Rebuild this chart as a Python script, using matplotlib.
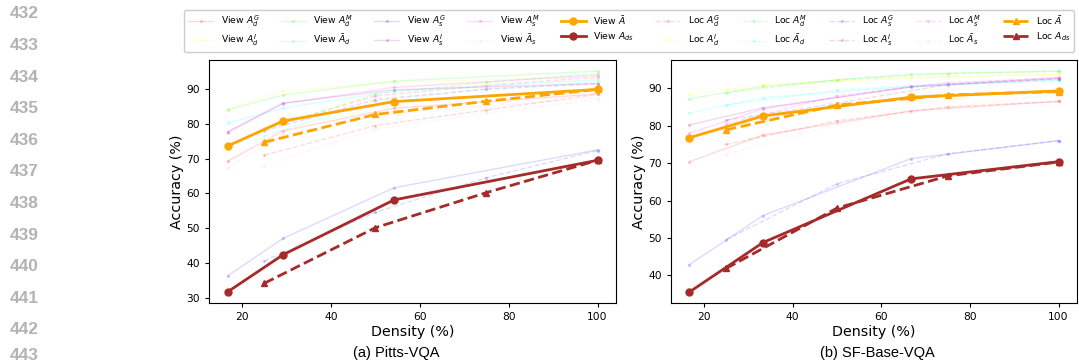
import matplotlib
matplotlib.use('Agg')
import matplotlib.pyplot as plt

# density values (%)
pitts_view_x = [16.7, 29.2, 54.2, 100]
pitts_loc_x = [25, 50, 75, 100]
sf_view_x = [16.7, 33.3, 66.7, 100]
sf_loc_x = [25, 50, 75, 100]

# faint baselines, order: AdG, AdI, AdM, Ad_bar, AsG, AsI, AsM, As_bar
pitts_view_AdG = [69.2, 78.0, 84.5, 88.6]
pitts_view_AdI = [84.2, 89.4, 92.0, 93.5]
pitts_view_AdM = [84.0, 88.3, 92.3, 95.2]
pitts_view_Adbar = [80.2, 84.5, 89.5, 92.7]
pitts_view_AsG = [36.2, 47.0, 61.6, 72.5]
pitts_view_AsI = [77.7, 86.0, 89.8, 91.6]
pitts_view_AsM = [77.5, 85.8, 90.5, 94.0]
pitts_view_Asbar = [67.3, 77.0, 83.0, 87.5]

pitts_loc_AdG = [71.0, 79.5, 84.0, 88.5]
pitts_loc_AdI = [79.0, 88.0, 91.5, 93.0]
pitts_loc_AdM = [78.5, 88.5, 92.0, 94.5]
pitts_loc_Adbar = [76.5, 86.5, 90.0, 92.0]
pitts_loc_AsG = [40.5, 54.5, 64.5, 72.3]
pitts_loc_AsI = [78.0, 87.0, 90.0, 91.5]
pitts_loc_AsM = [78.5, 88.0, 91.0, 93.5]
pitts_loc_Asbar = [68.0, 78.5, 83.0, 87.0]

sf_view_AdG = [70.4, 77.5, 84.0, 86.5]
sf_view_AdI = [88.4, 91.0, 92.8, 93.8]
sf_view_AdM = [87.2, 90.5, 93.8, 94.6]
sf_view_Adbar = [83.4, 87.5, 90.5, 92.1]
sf_view_AsG = [42.9, 56.0, 71.2, 76.0]
sf_view_AsI = [80.2, 84.8, 90.3, 92.6]
sf_view_AsM = [78.0, 84.5, 90.5, 92.9]
sf_view_Asbar = [76.0, 82.0, 88.0, 89.5]

sf_loc_AdG = [75.0, 81.3, 85.0, 86.5]
sf_loc_AdI = [89.5, 92.0, 93.0, 93.8]
sf_loc_AdM = [88.8, 92.3, 93.9, 94.5]
sf_loc_Adbar = [85.5, 89.5, 91.2, 92.0]
sf_loc_AsG = [49.6, 64.5, 72.5, 76.0]
sf_loc_AsI = [81.5, 86.0, 91.0, 92.5]
sf_loc_AsM = [80.5, 88.0, 91.5, 92.7]
sf_loc_Asbar = [72.2, 80.5, 85.0, 88.5]

# main results
pitts_view_Abar = [73.6, 80.8, 86.4, 89.9]
pitts_loc_Abar = [74.7, 82.7, 86.5, 89.9]
pitts_view_Ads = [31.6, 42.3, 58.1, 69.5]
pitts_loc_Ads = [34.1, 50.1, 60.2, 69.5]

sf_view_Abar = [76.8, 82.6, 87.6, 89.3]
sf_loc_Abar = [78.9, 85.5, 88.2, 89.1]
sf_view_Ads = [35.6, 48.8, 65.8, 70.4]
sf_loc_Ads = [41.9, 58.0, 66.6, 70.3]

faint_names = [r'$A_d^G$', r'$A_d^I$', r'$A_d^M$', r'$\bar{A}_d$',
               r'$A_s^G$', r'$A_s^I$', r'$A_s^M$', r'$\bar{A}_s$']
faint_colors = ['red', 'yellow', 'lime', 'cyan', 'blue', 'purple', 'magenta', 'pink']

panels = [
    dict(vx=pitts_view_x, lx=pitts_loc_x,
         view=[pitts_view_AdG, pitts_view_AdI, pitts_view_AdM, pitts_view_Adbar,
               pitts_view_AsG, pitts_view_AsI, pitts_view_AsM, pitts_view_Asbar],
         loc=[pitts_loc_AdG, pitts_loc_AdI, pitts_loc_AdM, pitts_loc_Adbar,
              pitts_loc_AsG, pitts_loc_AsI, pitts_loc_AsM, pitts_loc_Asbar],
         vA=pitts_view_Abar, lA=pitts_loc_Abar, vD=pitts_view_Ads, lD=pitts_loc_Ads,
         caption='(a) Pitts-VQA'),
    dict(vx=sf_view_x, lx=sf_loc_x,
         view=[sf_view_AdG, sf_view_AdI, sf_view_AdM, sf_view_Adbar,
               sf_view_AsG, sf_view_AsI, sf_view_AsM, sf_view_Asbar],
         loc=[sf_loc_AdG, sf_loc_AdI, sf_loc_AdM, sf_loc_Adbar,
              sf_loc_AsG, sf_loc_AsI, sf_loc_AsM, sf_loc_Asbar],
         vA=sf_view_Abar, lA=sf_loc_Abar, vD=sf_view_Ads, lD=sf_loc_Ads,
         caption='(b) SF-Base-VQA'),
]

fig = plt.figure(figsize=(10.79, 3.64), dpi=100)
ax_pos = [[0.1937, 0.1676, 0.3772, 0.6676], [0.6219, 0.1676, 0.3763, 0.6676]]
cap_x = [396 / 1079, 877 / 1079]

for i, p in enumerate(panels):
    ax = fig.add_axes(ax_pos[i])
    view_handles, loc_handles = [], []
    for ys, c, n in zip(p['view'], faint_colors, faint_names):
        h, = ax.plot(p['vx'], ys, '-', marker='.', ms=3, lw=1, color=c, alpha=0.14,
                     label='View ' + n)
        view_handles.append(h)
    for ys, c, n in zip(p['loc'], faint_colors, faint_names):
        h, = ax.plot(p['lx'], ys, '--', marker='.', ms=3, lw=1, color=c, alpha=0.14,
                     label='Loc ' + n)
        loc_handles.append(h)
    h1, = ax.plot(p['vx'], p['vA'], '-', marker='o', ms=5, lw=2, color='orange',
                  label=r'View $\bar{A}$')
    h2, = ax.plot(p['vx'], p['vD'], '-', marker='o', ms=5, lw=2, color='brown',
                  label=r'View $A_{ds}$')
    h3, = ax.plot(p['lx'], p['lA'], '--', marker='^', ms=5, lw=2, color='orange',
                  label=r'Loc $\bar{A}$')
    h4, = ax.plot(p['lx'], p['lD'], '--', marker='^', ms=5, lw=2, color='brown',
                  label=r'Loc $A_{ds}$')
    ax.tick_params(labelsize=7.7, length=3)
    ax.set_xlabel('Density (%)', fontsize=10.3, labelpad=2)
    ax.set_ylabel('Accuracy (%)', fontsize=10.3, labelpad=2)
    fig.text(cap_x[i], 1 - 353 / 364, p['caption'], ha='center', va='center',
             fontsize=10.5, family='Liberation Sans')
    if i == 0:
        handles = view_handles + [h1, h2] + loc_handles + [h3, h4]

fig.legend(handles=handles, ncol=10, loc='center', bbox_to_anchor=(629 / 1079, 1 - 31 / 364),
           fontsize=6.7, handlelength=2.7, columnspacing=2.3, handletextpad=0.8,
           labelspacing=0.4, framealpha=1, edgecolor='#cccccc', fancybox=True)

# line numbers of the page
for k in range(12):
    y = min(14 + 31.6 * k, 356)
    fig.text(10 / 1079, 1 - y / 364, str(432 + k), ha='left', va='center',
             fontsize=12.5, fontweight='bold', color='#b3b3b3', family='Liberation Sans')

fig.savefig('out.png', dpi=100)
